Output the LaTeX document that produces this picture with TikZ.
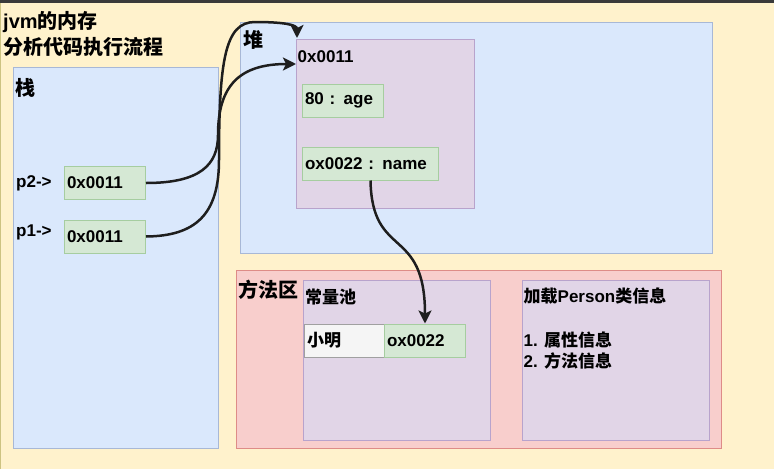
\documentclass[tikz,border=0pt]{standalone}
\usepackage{fontspec}
\setmainfont{Liberation Sans}
\newfontfamily\cjk{Noto Sans CJK SC}
\usetikzlibrary{arrows.meta}
\definecolor{bgyellow}{HTML}{FFF2CC}
\definecolor{topbar}{HTML}{3A3A3A}
\definecolor{edgeline}{RGB}{205,195,130}
\definecolor{bluefill}{HTML}{DAE8FC}
\definecolor{blueline}{RGB}{168,184,214}
\definecolor{purplefill}{HTML}{E1D5E7}
\definecolor{purpleline}{RGB}{184,163,204}
\definecolor{pinkfill}{HTML}{F8CECC}
\definecolor{pinkline}{RGB}{222,140,135}
\definecolor{greenfill}{HTML}{D5E8D4}
\definecolor{greenline}{RGB}{166,205,160}
\definecolor{greyfill}{HTML}{F5F5F5}
\definecolor{greyline}{RGB}{160,160,160}
\definecolor{wire}{HTML}{1E1E1E}
\begin{document}
\begin{tikzpicture}[x=1pt, y=-1pt,
  area/.style={draw=#1line, fill=#1fill, line width=1pt, anchor=north west, inner sep=0pt},
  cell/.style={draw=#1line, fill=#1fill, line width=1pt, anchor=north west, minimum height=33pt,
    inner xsep=2.5pt, inner ysep=0pt, align=left, font=\bfseries\fontsize{17}{20}\selectfont},
  lbl/.style={anchor=west, inner sep=0pt, font=\bfseries\fontsize{17}{20}\selectfont},
  biglbl/.style={lbl, font=\bfseries\fontsize{20}{24}\selectfont},
  arr/.style={-{Stealth[length=13pt, width=13pt, inset=3pt]}, line width=2.5pt, draw=wire}]
  \useasboundingbox (0,0) rectangle (774,469);
  \fill[bgyellow] (0,0) rectangle (774,469);
  \fill[topbar] (0,0) rectangle (774,3);
  \draw[edgeline, line width=1pt] (0.5,3) -- (0.5,469);
  % title
  \node[biglbl] (title1) at (3,22) {jvm{\cjk 的内存}};
  \node[biglbl] (title2) at (3,46.5) {\cjk 分析代码执行流程};
  % stack
  \node[area=blue, minimum width=205pt, minimum height=381pt] (stack) at (13,67) {};
  \node[biglbl] (stacklbl) at (15,87.5) {\cjk 栈};
  \node[lbl] (p2lbl) at (16,183) {p2->};
  \node[cell=green, text width=76pt] (p2) at (64,166) {0x0011};
  \node[lbl] (p1lbl) at (16,232.5) {p1->};
  \node[cell=green, text width=76pt] (p1) at (64,219.5) {0x0011};
  % heap
  \node[area=blue, minimum width=472pt, minimum height=231pt] (heap) at (240,22) {};
  \node[biglbl] (heaplbl) at (243,40) {\cjk 堆};
  \node[area=purple, minimum width=178pt, minimum height=169pt] (obj) at (296,39) {};
  \node[lbl] (objlbl) at (297.5,57) {0x0011};
  \node[cell=green, text width=76pt] (age) at (302,83.5) {80 : age};
  \node[cell=green, text width=131pt] (name) at (302,146.5) {ox0022 : name};
  % method area
  \node[area=pink, minimum width=485pt, minimum height=178pt] (method) at (235.5,270) {};
  \node[biglbl] (methodlbl) at (238,290) {\cjk 方法区};
  \node[area=purple, minimum width=187pt, minimum height=160pt] (pool) at (302.5,279.5) {};
  \node[lbl] (poollbl) at (305,297.5) {\cjk 常量池};
  \node[cell=grey, text width=75pt] (xm) at (304,323.5) {\cjk 小明};
  \node[cell=green, text width=76pt] (ox) at (384,323.5) {ox0022};
  \node[area=purple, minimum width=187pt, minimum height=160pt] (cls) at (522,279.5) {};
  \node[lbl] (clslbl) at (523.5,296.5) {{\cjk 加载}Person{\cjk 类信息}};
  \node[lbl] (clsattr) at (523.5,340) {1. {\cjk 属性信息}};
  \node[lbl] (clsmeth) at (523.5,361) {2. {\cjk 方法信息}};
  % references
  \coordinate (objleft) at (296,64);
  \coordinate (objtop) at (297,38);
  \draw[arr] (p2.east) .. controls (200,183) and (218,165) .. (218,135)
    .. controls (218,85) and (240,64) .. (objleft);
  \draw[arr] (p1.east) .. controls (195,236) and (219,215) .. (219,160)
    .. controls (219,60) and (225,22) .. (255,22) .. controls (285,22) and (297,25) .. (objtop);
  \draw[arr] (name.south) .. controls (372,260) and (425,225) .. (ox.north);
\end{tikzpicture}
\end{document}
